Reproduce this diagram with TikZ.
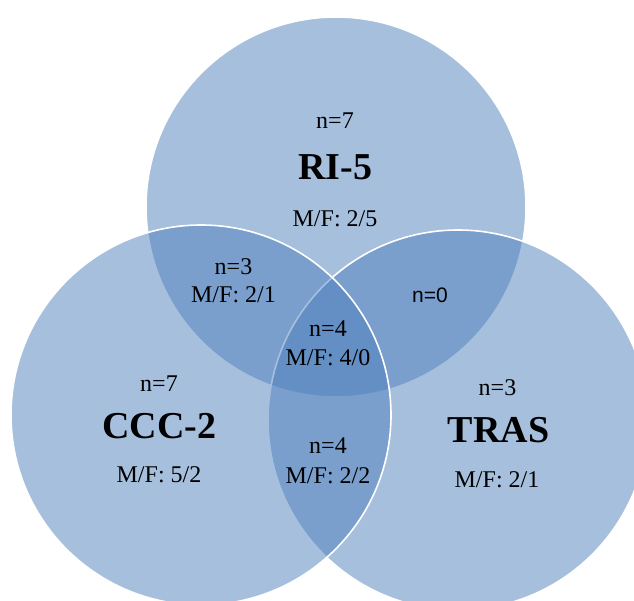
\documentclass[tikz,border=0pt]{standalone}
\usepackage{fontspec}
\setmainfont{Liberation Serif}
\newfontfamily\sansf{Liberation Sans}
\definecolor{vennblue}{RGB}{79,129,189}
\begin{document}
\begin{tikzpicture}[x=1pt,y=-1pt,
  vset/.style={fill=vennblue,fill opacity=0.5,draw=white,draw opacity=1,line width=1.6pt},
  lbl/.style={anchor=base,inner sep=0pt,font=\fontsize{24}{28}\selectfont},
  title/.style={anchor=base,inner sep=0pt,font=\fontsize{38}{42}\selectfont\bfseries},
  slbl/.style={anchor=base,inner sep=0pt,font=\sansf\fontsize{21}{25}\selectfont}]
\useasboundingbox (0,0) rectangle (634,601);
\clip (0,0) rectangle (634,601);
\fill[white] (0,0) rectangle (634,601);
\path[vset] (336,207) circle[radius=190];
\path[vset] (458,420) circle[radius=190];
\path[vset] (201,415) circle[radius=190];
% top set
\node[lbl] (tn) at (335,129) {n=7};
\node[title] (tt) at (335.5,180) {RI-5};
\node[lbl] (tmf) at (335,227) {M/F: 2/5};
% left set
\node[lbl] (ln) at (159,391.5) {n=7};
\node[title] (lt) at (159.5,438.5) {CCC-2};
\node[lbl] (lmf) at (159,482) {M/F: 5/2};
% right set
\node[lbl] (rn) at (497.5,395.5) {n=3};
\node[title] (rt) at (498.5,442.5) {TRAS};
\node[lbl] (rmf) at (497,487) {M/F: 2/1};
% top-left
\node[lbl] (tln) at (233.5,275) {n=3};
\node[lbl] (tlmf) at (233.5,303) {M/F: 2/1};
% top-right
\node[slbl] (trn) at (430,303) {n=0};
% centre
\node[lbl] (cn) at (328,336.5) {n=4};
\node[lbl] (cmf) at (328,365.5) {M/F: 4/0};
% left-right
\node[lbl] (lrn) at (328,453) {n=4};
\node[lbl] (lrmf) at (328,483) {M/F: 2/2};
\end{tikzpicture}
\end{document}
